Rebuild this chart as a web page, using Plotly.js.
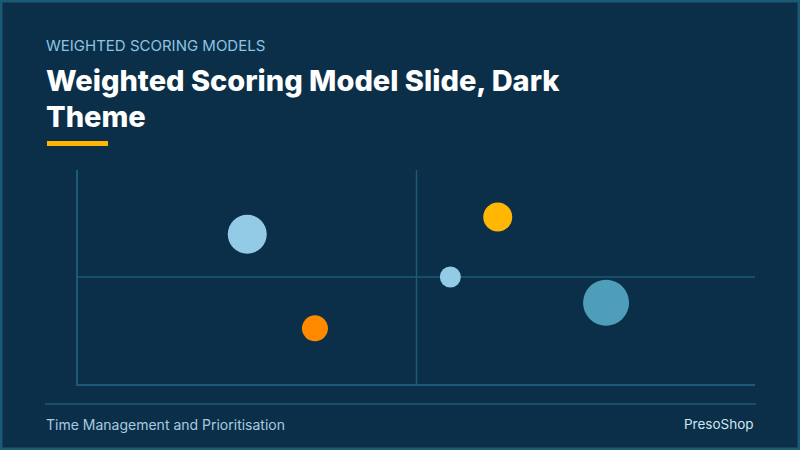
<!DOCTYPE html>
<html>
<head>
<meta charset="utf-8">
<script src="https://cdn.plot.ly/plotly-3.0.1.min.js"></script>
<style>
html,body{margin:0;padding:0;background:#0b2f48;}
#chart{width:800px;height:450px;}
</style>
</head>
<body>
<div id="chart"></div>
<script>
// Data
var itemNames = ["Item A", "Item B", "Item C", "Item D", "Item E"];
var effortX = [2.5, 3.5, 5.5, 6.2, 7.8];
var valueY = [7.0, 2.6, 5.0, 7.8, 3.8];
var weight = [39, 26, 21, 29, 46];
var itemColors = ["#93cae6", "#ff8a00", "#93cae6", "#ffb703", "#4f9eb9"];
var axisRange = [0, 10];
var midPoint = 5;

var kicker = "WEIGHTED SCORING MODELS";
var titleLines = ["Weighted Scoring Model Slide, Dark", "Theme"];
var footerLeft = "Time Management and Prioritisation";
var footerRight = "PresoShop";

// Layout geometry (pixels)
var W = 800, H = 450;
var mL = 78, mR = 45, mT = 170, mB = 66;
var pw = W - mL - mR, ph = H - mT - mB;
function px(x) { return (x - mL) / pw; }
function py(y) { return (H - mB - y) / ph; }

var bg = "#0b2f48";
var lineCol = "#1d5a75";
var fam = "Inter, 'Open Sans', sans-serif";

var trace = {
  type: "scatter",
  mode: "markers",
  x: effortX,
  y: valueY,
  text: itemNames,
  marker: {
    size: weight,
    sizemode: "diameter",
    sizeref: 1,
    color: itemColors,
    opacity: 1,
    line: { width: 0 }
  },
  hoverinfo: "text",
  showlegend: false
};

var layout = {
  width: W, height: H,
  paper_bgcolor: bg,
  plot_bgcolor: bg,
  margin: { l: mL, r: mR, t: mT, b: mB, pad: 0 },
  xaxis: {
    range: axisRange, showgrid: false, zeroline: false,
    showticklabels: false, ticks: "",
    showline: true, linecolor: lineCol, linewidth: 2, mirror: false,
    fixedrange: true
  },
  yaxis: {
    range: axisRange, showgrid: false, zeroline: false,
    showticklabels: false, ticks: "",
    showline: true, linecolor: lineCol, linewidth: 2, mirror: false,
    fixedrange: true
  },
  shapes: [
    { type: "line", xref: "x", yref: "paper", x0: midPoint, x1: midPoint, y0: 0, y1: 1,
      line: { color: lineCol, width: 1.5 }, layer: "below" },
    { type: "line", xref: "paper", yref: "y", x0: 0, x1: 1, y0: midPoint, y1: midPoint,
      line: { color: lineCol, width: 1.5 }, layer: "below" },
    // title underline
    { type: "line", xref: "paper", yref: "paper",
      x0: px(47), x1: px(108), y0: py(143.5), y1: py(143.5),
      line: { color: "#ffb703", width: 5 } },
    // footer rule
    { type: "line", xref: "paper", yref: "paper",
      x0: px(45), x1: px(756), y0: py(404), y1: py(404),
      line: { color: lineCol, width: 1.5 } },
    // slide frame
    { type: "rect", xref: "paper", yref: "paper",
      x0: px(1), x1: px(799), y0: py(449), y1: py(1),
      line: { color: "#1b5a74", width: 3 }, fillcolor: "rgba(0,0,0,0)" }
  ],
  annotations: [
    { text: kicker, xref: "paper", yref: "paper", x: px(44), y: py(46),
      xanchor: "left", yanchor: "middle", showarrow: false,
      font: { family: fam, size: 15, color: "#8ec4e2" } },
    { text: titleLines[0], xref: "paper", yref: "paper", x: px(44), y: py(80),
      xanchor: "left", yanchor: "middle", showarrow: false,
      font: { family: fam, size: 29, color: "#ffffff", weight: 800 } },
    { text: titleLines[1], xref: "paper", yref: "paper", x: px(44), y: py(117),
      xanchor: "left", yanchor: "middle", showarrow: false,
      font: { family: fam, size: 29, color: "#ffffff", weight: 800 } },
    { text: footerLeft, xref: "paper", yref: "paper", x: px(44), y: py(424),
      xanchor: "left", yanchor: "middle", showarrow: false,
      font: { family: fam, size: 14, color: "#a6cbe0" } },
    { text: footerRight, xref: "paper", yref: "paper", x: px(756), y: py(424),
      xanchor: "right", yanchor: "middle", showarrow: false,
      font: { family: fam, size: 13.5, color: "#cfe6f2" } }
  ]
};

Plotly.newPlot("chart", [trace], layout, { displayModeBar: false, staticPlot: true });
</script>
</body>
</html>
